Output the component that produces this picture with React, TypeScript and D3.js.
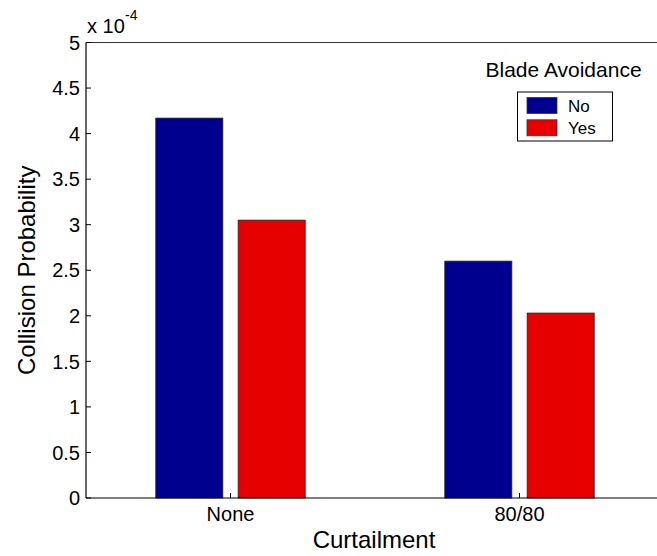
import React from "react";
import * as d3 from "d3";

const categories = ["None", "80/80"];
const seriesNames = ["No", "Yes"];
const noValues = [4.17, 2.6];
const yesValues = [3.05, 2.03];
const yTicks = [0, 0.5, 1, 1.5, 2, 2.5, 3, 3.5, 4, 4.5, 5];
const colors = ["#00008F", "#E60000"];

const W = 657;
const H = 556;
const FONT = "'Liberation Sans', Arial, Helvetica, sans-serif";

export default function App() {
  const left = 86;
  const top = 42.5;
  const bottom = 498;
  // x range in data units is [0.5, 2.5]; the plot extends slightly past the right edge
  const x = d3.scaleLinear().domain([0.5, 2.5]).range([left, 664]);
  const y = d3.scaleLinear().domain([0, 5]).range([bottom, top]);
  const barW = 0.232;
  const offset = 0.1425;
  const series = [noValues, yesValues];

  return (
    <svg width={W} height={H} style={{ position: "absolute", left: 0, top: 0, background: "#fff" }} fontFamily={FONT}>
      <rect x={0} y={0} width={W} height={H} fill="#fff" />
      {/* bars */}
      {categories.map((c, i) =>
        series.map((vals, s) => {
          const cx = x(i + 1) + (s === 0 ? -1 : 1) * (x(offset) - x(0));
          const w = x(barW) - x(0);
          return (
            <rect
              key={c + s}
              x={cx - w / 2}
              y={y(vals[i])}
              width={w}
              height={y(0) - y(vals[i])}
              fill={colors[s]}
              stroke="#222"
              strokeWidth={0.8}
            />
          );
        })
      )}
      {/* axes lines */}
      <line x1={left} x2={W} y1={top} y2={top} stroke="#333" strokeWidth={1.2} />
      <line x1={left} x2={W} y1={bottom} y2={bottom} stroke="#000" strokeWidth={1.2} />
      <line x1={left} x2={left} y1={top} y2={bottom} stroke="#000" strokeWidth={1.2} />
      {/* y ticks */}
      {yTicks.map((t) => (
        <g key={t}>
          <line x1={left} x2={left + 5} y1={y(t)} y2={y(t)} stroke="#000" strokeWidth={1} />
          <text x={left - 6} y={y(t)} dy="0.36em" textAnchor="end" fontSize={20} fill="#000">
            {String(t)}
          </text>
        </g>
      ))}
      {/* x ticks */}
      {categories.map((c, i) => (
        <g key={c}>
          <line x1={x(i + 1)} x2={x(i + 1)} y1={bottom} y2={bottom - 5} stroke="#000" strokeWidth={1} />
          <text x={x(i + 1)} y={521} textAnchor="middle" fontSize={20} fill="#000">
            {c}
          </text>
        </g>
      ))}
      {/* exponent */}
      <text x={87} y={33} fontSize={20} fill="#000">
        x 10
      </text>
      <text x={125} y={19.5} fontSize={14} fill="#000">
        -4
      </text>
      {/* axis labels */}
      <text x={374} y={548} textAnchor="middle" fontSize={24} fill="#000">
        Curtailment
      </text>
      <text
        transform={`translate(35, ${(top + bottom) / 2}) rotate(-90)`}
        textAnchor="middle"
        fontSize={24}
        fill="#000"
      >
        Collision Probability
      </text>
      {/* legend */}
      <text x={485.5} y={77} fontSize={21} fill="#000">
        Blade Avoidance
      </text>
      <rect x={517.5} y={92} width={95} height={49} fill="#fff" stroke="#000" strokeWidth={1} />
      {seriesNames.map((n, s) => (
        <g key={n}>
          <rect x={527} y={97.5 + s * 22.3} width={30} height={16} fill={colors[s]} stroke="#333" strokeWidth={0.8} />
          <text x={568} y={111.5 + s * 22.3} fontSize={17} fill="#000">
            {n}
          </text>
        </g>
      ))}
    </svg>
  );
}
